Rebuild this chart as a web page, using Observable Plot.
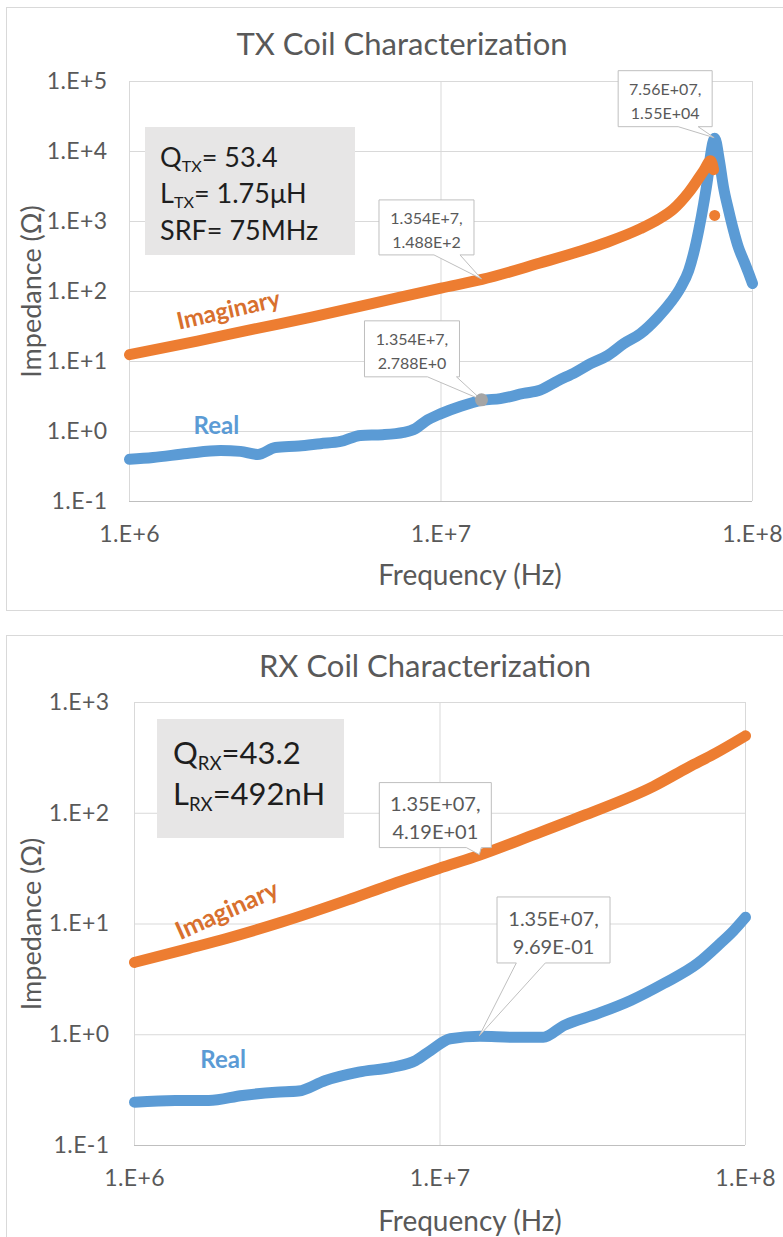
<!DOCTYPE html>
<html><head><meta charset="utf-8">
<script src="https://cdn.jsdelivr.net/npm/d3@7"></script>
<script src="https://cdn.jsdelivr.net/npm/@observablehq/plot@0.6"></script>
<style>
html,body{margin:0;padding:0;background:#fff;}
body{width:783px;height:1237px;overflow:hidden;position:relative;font-family:Lato,"Open Sans",sans-serif;}
.panel{position:absolute;left:6px;width:820px;border:1px solid #d9d9d9;box-sizing:border-box;}
.chart{position:absolute;left:0;}
.info{position:absolute;background:#e7e6e6;color:#1e1e1e;}
.info div{position:absolute;white-space:nowrap;}
.info sub{font-size:60%;vertical-align:-0.3em;line-height:0;}
</style>
</head><body>
<div class="panel" style="top:7px;height:604px"></div>
<div class="panel" style="top:635px;height:640px"></div>
<div id="c1" class="chart" style="top:0"></div>
<div id="c2" class="chart" style="top:628px"></div>
<div class="info" style="left:145px;top:127px;width:210px;height:128px;font-size:27px;line-height:32px">
  <div style="left:15px;top:14px">Q<sub>TX</sub>= 53.4</div>
  <div style="left:15px;top:50px">L<sub>TX</sub>= 1.75μH</div>
  <div style="left:15px;top:87px">SRF= 75MHz</div>
</div>
<div class="info" style="left:157px;top:719px;width:187px;height:119px;font-size:31px;line-height:36px">
  <div style="left:16px;top:15px">Q<sub>RX</sub>=43.2</div>
  <div style="left:16px;top:56px">L<sub>RX</sub>=492nH</div>
</div>
<script>
// ---------- data ----------
const xTicks = [1e6, 1e7, 1e8];
const txYTicks = [1e-1, 1e0, 1e1, 1e2, 1e3, 1e4, 1e5];
const rxYTicks = [1e-1, 1e0, 1e1, 1e2, 1e3];

// TX coil
const txRealFreq = [1.0e6,1.19e6,1.53e6,1.96e6,2.27e6,2.58e6,2.94e6,3.5e6,4.1e6,4.76e6,5.52e6,6.5e6,7.59e6,8.28e6,8.91e6,1.0e7,1.157e7,1.354e7,1.55e7,1.84e7,2.08e7,2.37e7,2.70e7,3.02e7,3.43e7,3.86e7,4.37e7,4.95e7,5.46e7,5.87e7,6.24e7,6.47e7,6.72e7,6.97e7,7.18e7,7.34e7,7.56e7,7.83e7,8.07e7,8.38e7,8.69e7,9.02e7,9.36e7,9.71e7,1.0e8];
const txReal     = [0.40,0.425,0.485,0.535,0.52,0.47,0.59,0.62,0.67,0.72,0.88,0.90,0.97,1.10,1.4,1.8,2.3,2.788,2.95,3.5,3.9,5.3,7.0,9.3,12.2,18,25,42,70,113,200,350,750,1800,4100,9000,15500,7400,3100,1450,750,420,280,185,130];
const txImagFreq = [1e6,1.65e6,2.5e6,3.84e6,6e6,1e7,1.354e7,2.08e7,2.79e7,3.43e7,4.37e7,5.0e7,5.57e7,6.24e7,6.97e7,7.34e7,7.5e7];
const txImag     = [12.5,19.5,29,43,67,112,148.8,255,375,510,790,1080,1500,2600,5300,7400,5500];
const txImagStrayFreq = [7.56e7];
const txImagStray     = [1220];

// RX coil
const rxRealFreq = [1e6,1.36e6,1.75e6,2.26e6,2.9e6,3.44e6,4.22e6,5.41e6,7.0e6,8.32e6,9.31e6,1.08e7,1.35e7,1.74e7,2.18e7,2.54e7,3.28e7,4.21e7,5.4e7,6.97e7,8.28e7,9.14e7,1e8];
const rxReal     = [0.246,0.255,0.255,0.283,0.303,0.31,0.387,0.46,0.51,0.585,0.72,0.92,0.969,0.95,0.95,1.21,1.55,2.04,2.90,4.4,6.7,8.7,11.5];
const rxImagFreq = [1e6,1.5e6,2e6,3e6,5e6,7e6,1e7,1.35e7,2e7,3e7,5e7,6.5e7,8e7,1e8];
const rxImag     = [4.5,6.0,7.4,10.3,16.5,23,32,41.9,63,97,175,260,350,500];

// ---------- helpers ----------
const BLUE = "#5B9BD5", ORANGE = "#ED7D31", GRID = "#d9d9d9", TXT = "#595959";
const FONT = "Lato, 'Open Sans', sans-serif";
const zip = (fs, zs) => fs.map((f, i) => ({f, z: zs[i]}));
const fmt = d => { const e = Math.round(Math.log10(d)); return "1.E" + (e < 0 ? "-" : "+") + Math.abs(e); };

function chart(o) {
  const lineOpts = {x: "f", y: "z", strokeWidth: 11, strokeLinecap: "round", strokeLinejoin: "round", curve: "monotone-x"};
  const p = Plot.plot({
    width: 783, height: o.height,
    marginLeft: o.ml, marginRight: o.mr, marginTop: o.mt, marginBottom: o.mb,
    style: {fontFamily: FONT, fontSize: "22px", color: TXT, background: "transparent"},
    x: {type: "log", domain: [1e6, 1e8], ticks: xTicks, tickFormat: fmt, tickSize: 0, tickPadding: 24, label: null},
    y: {type: "log", domain: o.ydomain, ticks: o.yticks, tickFormat: fmt, tickSize: 0, tickPadding: o.ypad, label: null},
    marks: [
      Plot.ruleY(o.yticks, {stroke: GRID}),
      Plot.ruleX(xTicks, {stroke: GRID}),
      Plot.ruleY([o.ydomain[0]], {stroke: "#bfbfbf"}),
      Plot.line(o.real, {...lineOpts, stroke: BLUE}),
      Plot.line(o.imag, {...lineOpts, stroke: ORANGE}),
      ...(o.extra || []),
      Plot.text([o.title], {text: d => d, frameAnchor: "top", textAnchor: "middle", lineAnchor: "middle", dx: o.titleDx, dy: o.titleDy, fontSize: 31, fill: TXT}),
      Plot.text(["Frequency (Hz)"], {text: d => d, frameAnchor: "bottom", textAnchor: "middle", lineAnchor: "middle", dx: o.xlabDx, dy: o.xlabDy, fontSize: 28, fill: TXT}),
      Plot.text(["Impedance (Ω)"], {text: d => d, frameAnchor: "left", textAnchor: "middle", lineAnchor: "middle", dx: o.ylabDx, rotate: -90, fontSize: 27, fill: TXT}),
      Plot.text([o.imagLabel], {x: "f", y: "z", text: () => "Imaginary", textAnchor: "middle", lineAnchor: "middle", rotate: o.imagLabel.rot, fontSize: o.imagLabel.size, fontWeight: "bold", fill: "#D8702E"}),
      Plot.text([o.realLabel], {x: "f", y: "z", text: () => "Real", textAnchor: "middle", lineAnchor: "middle", fontSize: 24, fontWeight: "bold", fill: BLUE})
    ]
  });
  // enlarge the axis tick labels
  d3.select(p).selectAll("text").filter(function () { return /^1\.E[+-]\d$/.test(this.textContent); })
    .attr("font-size", 23).style("font-size", "23px").style("letter-spacing", "0.4px").attr("fill", TXT);
  return p;
}

function addCallouts(plot, items, fontSize) {
  const sx = plot.scale("x"), sy = plot.scale("y");
  const X = d3.scaleLog().domain(sx.domain).range(sx.range);
  const Y = d3.scaleLog().domain(sy.domain).range(sy.range);
  const g = d3.select(plot).append("g").attr("font-family", FONT);
  for (const c of items) {
    const px = X(c.f), py = Y(c.z);
    const x0 = px + c.box[0], y0 = py + c.box[1], x1 = px + c.box[2], y1 = py + c.box[3];
    const w0 = px + c.wedge[0], w1 = px + c.wedge[1];
    g.append("path")
      .attr("d", `M${x0},${y0}H${x1}V${y1}H${w1}L${px},${py}L${w0},${y1}H${x0}Z`)
      .attr("fill", "#fff").attr("stroke", "#bfbfbf").attr("stroke-width", 1);
    if (c.dot) g.append("circle").attr("cx", px).attr("cy", py).attr("r", 6.5).attr("fill", "#a5a5a5");
    const h = y1 - y0;
    c.lines.forEach((t, i) => {
      g.append("text").attr("x", (x0 + x1) / 2).attr("y", y0 + h * (i === 0 ? 0.32 : 0.75))
        .attr("text-anchor", "middle").attr("dominant-baseline", "central")
        .attr("font-size", fontSize).attr("fill", TXT).text(t);
    });
  }
}

// ---------- TX chart ----------
const tx = chart({
  height: 612, ml: 129, mr: 31, mt: 81, mb: 111,
  ydomain: [1e-1, 1e5], yticks: txYTicks, ypad: 22,
  real: zip(txRealFreq, txReal), imag: zip(txImagFreq, txImag),
  extra: [Plot.dot(zip(txImagStrayFreq, txImagStray), {x: "f", y: "z", r: 5.5, fill: ORANGE})],
  title: "TX Coil Characterization", titleDx: -39, titleDy: -36,
  xlabDx: 29, xlabDy: 75, ylabDx: -97,
  imagLabel: {f: 2.08e6, z: 53.6, rot: -13, size: 24},
  realLabel: {f: 1.90e6, z: 1.18}
});
document.getElementById("c1").appendChild(tx);
addCallouts(tx, [
  {f: 7.56e7, z: 1.55e4, lines: ["7.56E+07,", "1.55E+04"], box: [-96, -67, -2, -11], wedge: [-36, -16]},
  {f: 1.354e7, z: 148.8, lines: ["1.354E+7,", "1.488E+2"], box: [-102.5, -79, -7.5, -24], wedge: [-47.5, -21.5]},
  {f: 1.354e7, z: 2.788, lines: ["1.354E+7,", "2.788E+0"], box: [-117, -79, -22, -23], wedge: [-54, -25], dot: true}
], 16);

// ---------- RX chart ----------
const rx = chart({
  height: 609, ml: 134, mr: 38, mt: 74, mb: 92,
  ydomain: [1e-1, 1e3], yticks: rxYTicks, ypad: 25,
  real: zip(rxRealFreq, rxReal), imag: zip(rxImagFreq, rxImag),
  title: "RX Coil Characterization", titleDx: -15, titleDy: -35,
  xlabDx: 30, xlabDy: 77, ylabDx: -102,
  imagLabel: {f: 2.01e6, z: 13.2, rot: -24, size: 25},
  realLabel: {f: 1.95e6, z: 0.585}
});
document.getElementById("c2").appendChild(rx);
addCallouts(rx, [
  {f: 1.35e7, z: 41.9, lines: ["1.35E+07,", "4.19E+01"], box: [-100, -72, 12, -7], wedge: [-13, 2]},
  {f: 1.35e7, z: 0.969, lines: ["1.35E+07,", "9.69E-01"], box: [17.7, -138.8, 130.7, -72.8], wedge: [37, 66]}
], 20);
</script>
</body></html>
